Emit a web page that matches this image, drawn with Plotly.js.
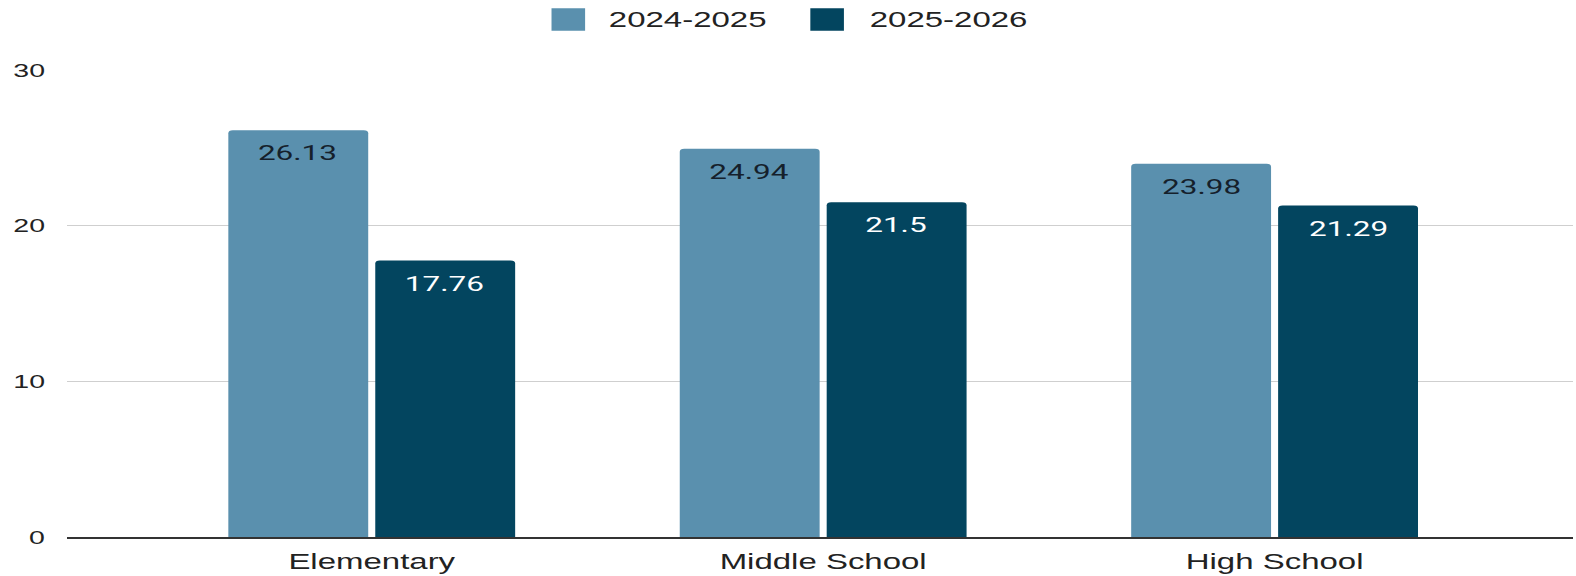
<!DOCTYPE html>
<html>
<head>
<meta charset="utf-8">
<script src="https://cdn.plot.ly/plotly-3.0.1.min.js"></script>
<style>
  html, body { margin: 0; padding: 0; background: #ffffff; overflow: hidden; }
  #wrap { width: 1051px; height: 576px; transform: scaleX(1.4995); transform-origin: 0 0; }
  #chart { width: 1051px; height: 576px; }
</style>
</head>
<body>
<div id="wrap"><div id="chart"></div></div>
<script>
// ---- data ----
const categories = ['Elementary', 'Middle School', 'High School'];
const seriesNames = ['2024-2025', '2025-2026'];
const values2024 = [26.13, 24.94, 23.98];
const values2025 = [17.76, 21.5, 21.29];
const yTickValues = [0, 10, 20, 30];

// ---- style ----
const colors = ['#5a90ae', '#03455f'];
const labelColors = ['#15202b', '#ffffff'];
const W = 1051, H = 576;
const M = { l: 45, r: 2, t: 70, b: 39 };
const plotW = W - M.l - M.r, plotH = H - M.t - M.b;
const px2x = p => (p - M.l) / plotW;
const px2y = p => (H - M.b - p) / plotH;

const seriesValues = [values2024, values2025];

const traces = seriesValues.map((vals, i) => ({
  type: 'bar',
  name: seriesNames[i],
  x: categories,
  y: vals,
  marker: { color: colors[i], cornerradius: 3, line: { width: 0 } },
  hoverinfo: 'skip',
  showlegend: false
}));

// value labels inside bars, near top
const annotations = [];
const barOffset = 49; // px from category centre
seriesValues.forEach((vals, i) => {
  vals.forEach((v, j) => {
    annotations.push({
      x: categories[j], y: v, xref: 'x', yref: 'y',
      text: String(v), showarrow: false,
      xshift: (i === 0 ? -barOffset : barOffset), yshift: -23,
      yanchor: 'middle', xanchor: 'center',
      font: { family: 'Roboto, Liberation Sans, Arial, sans-serif', size: 21, color: labelColors[i] }
    });
  });
});

// manual legend
const legendItems = [
  { sq0: 367.8, sq1: 390.2, tx: 404 },
  { sq0: 540.4, sq1: 562.8, tx: 577.5 }
];
const shapes = [];
legendItems.forEach((it, i) => {
  const x0 = px2x(it.sq0), x1 = px2x(it.sq1);
  const y0 = px2y(30.7), y1 = px2y(8.3);
  shapes.push({
    type: 'rect', xref: 'paper', yref: 'paper',
    x0: x0, x1: x1, y0: y0, y1: y1,
    fillcolor: colors[i], line: { width: 0 }
  });
  annotations.push({
    x: px2x(it.tx), y: px2y(19.5), xref: 'paper', yref: 'paper',
    text: seriesNames[i], showarrow: false, xanchor: 'left', yanchor: 'middle',
    font: { family: 'Liberation Sans, Arial, sans-serif', size: 22, color: '#222222' }
  });
});

const layout = {
  width: W, height: H,
  margin: M,
  paper_bgcolor: '#ffffff', plot_bgcolor: '#ffffff',
  barmode: 'group',
  bargap: 0.349,
  bargroupgap: 0.048,
  showlegend: false,
  font: { family: 'Liberation Sans, Arial, sans-serif', color: '#222222' },
  xaxis: {
    type: 'category',
    range: [-0.674, 2.661],
    showgrid: false,
    zeroline: false,
    showline: true, linecolor: '#333333', linewidth: 1.5,
    ticks: '',
    tickfont: { size: 22, color: '#222222' },
    ticklabelstandoff: 4,
    fixedrange: true
  },
  yaxis: {
    range: [0, 30],
    tickvals: yTickValues,
    ticktext: yTickValues.map(String),
    showgrid: true, gridcolor: '#cfcfcf', gridwidth: 1,
    zeroline: false, showline: false,
    ticks: '',
    tickfont: { size: 19, color: '#222222' },
    ticklabelstandoff: 14,
    fixedrange: true
  },
  shapes: shapes,
  annotations: annotations
};

Plotly.newPlot('chart', traces, layout, { displayModeBar: false, staticPlot: true });
</script>
</body>
</html>
